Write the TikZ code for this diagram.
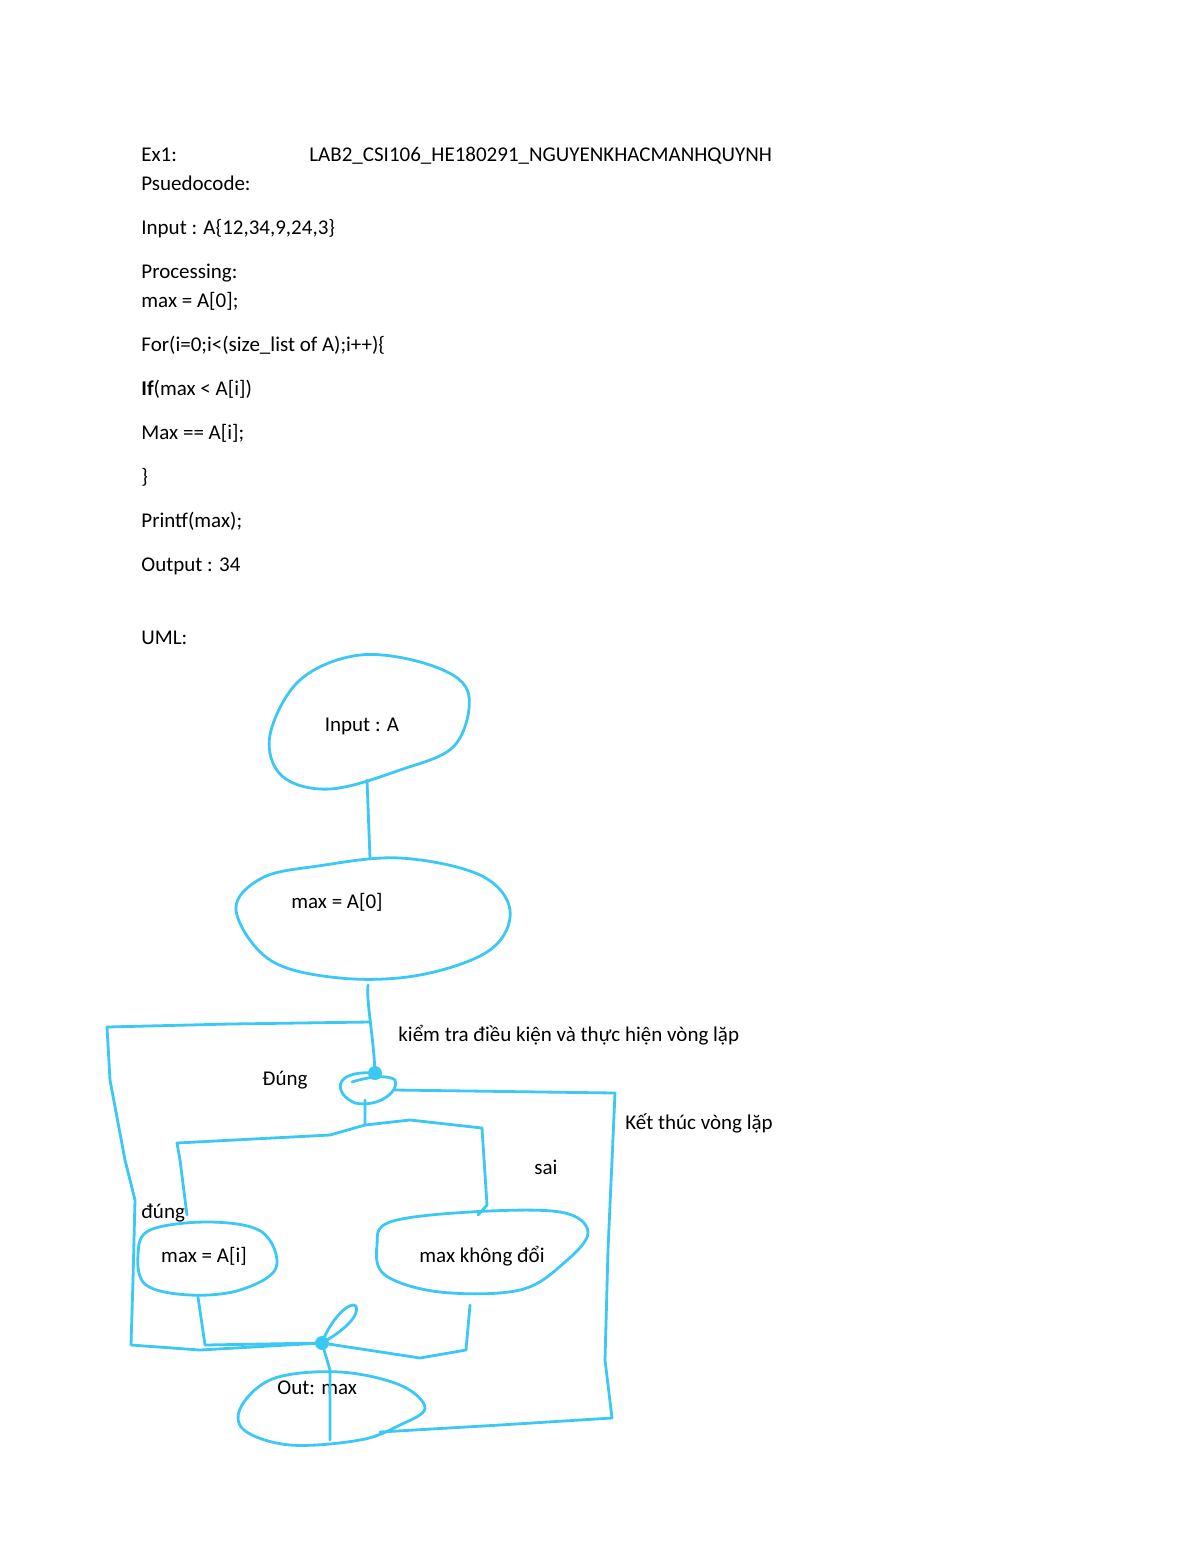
\documentclass[tikz,border=0pt]{standalone}
\usepackage{fontspec}
\setmainfont{Carlito}
\definecolor{pen}{HTML}{3CC8F5}
\begin{document}
\begin{tikzpicture}[x=0.5pt,y=-0.5pt,
  txt/.style={anchor=base west,inner sep=0pt,font=\fontsize{10.5}{13}\selectfont},
  ctxt/.style={inner sep=0pt,font=\fontsize{10.5}{13}\selectfont},
  ink/.style={draw=pen,line width=1.4pt,line cap=round,line join=round}]
\useasboundingbox (0,0) rectangle (1200,1553);
\node[txt] (t1) at (141,161) {Ex1:};
\node[txt] (t1b) at (309,161) {LAB2\_CSI106\_HE180291\_NGUYENKHACMANHQUYNH};
\node[txt] (t2) at (141,190) {Psuedocode:};
\node[txt] (t3) at (141,234) {Input : A\{12,34,9,24,3\}};
\node[txt] (t4) at (141,278) {Processing:};
\node[txt] (t5) at (141,307) {max = A[0];};
\node[txt] (t6) at (141,351) {For(i=0;i<(size\_list of A);i++)\{};
\node[txt] (t7) at (141,395) {\textbf{If}(max < A[i])};
\node[txt] (t8) at (141,439) {Max == A[i];};
\node[txt] (t9) at (141,483) {\}};
\node[txt] (t10) at (141,527) {Printf(max);};
\node[txt] (t11) at (141,571) {Output : 34};
\node[txt] (t12) at (141,644) {UML:};
% shapes
\draw[ink] plot[smooth cycle,tension=0.6] coordinates {(300,680)(360,655)(430,665)(468,692)(455,745)(400,770)(330,789)(282,776)(270,735)};
\draw[ink] plot[smooth cycle,tension=0.6] coordinates {(318,866)(400,858)(480,875)(510,910)(490,950)(420,975)(340,978)(270,960)(236,910)(262,878)};
\draw[ink] plot[smooth cycle,tension=0.6] coordinates {(150,1230)(210,1222)(262,1232)(276,1268)(240,1290)(190,1295)(146,1285)(138,1255)};
\draw[ink] plot[smooth cycle,tension=0.6] coordinates {(390,1222)(470,1212)(560,1212)(588,1232)(565,1262)(520,1290)(440,1292)(385,1275)(377,1245)};
\draw[ink] plot[smooth cycle,tension=0.6] coordinates {(275,1378)(340,1372)(400,1385)(425,1408)(400,1425)(360,1440)(290,1445)(244,1430)(242,1405)};
% label nodes
\node[ctxt] (in) at (362,726) {Input : A};
\node[ctxt] (m0) at (337,902) {max = A[0]};
\node[ctxt] (mi) at (204,1256) {max = A[i]};
\node[ctxt] (mk) at (482,1256) {max không đổi};
\node[txt] (out) at (277,1394) {Out: max};
\node[txt] (l1) at (398,1041) {kiểm tra điều kiện và thực hiện vòng lặp};
\node[txt] (l2) at (262,1085) {Đúng};
\node[txt] (l3) at (625,1129) {Kết thúc vòng lặp};
\node[txt] (l4) at (534,1174) {sai};
\node[txt] (l5) at (141,1218) {đúng};
% junctions
\coordinate (d) at (375,1073);
\coordinate (j) at (322,1343);
\draw[ink] (367,780) -- (370,858);
\draw[ink] (368,985) .. controls (366,1000) and (374,1040) .. (d);
\draw[ink] (d) .. controls (330,1070) and (335,1095) .. (355,1103) .. controls (380,1108) and (400,1090) .. (395,1080) .. controls (390,1075) and (370,1076) .. (352,1082);
\fill[pen] (d) circle (7);
\draw[ink] (370,1022) -- (230,1024) -- (107,1027) -- (110,1080) -- (125,1160) -- (135,1200) -- (133,1280) -- (131,1345) -- (200,1350) -- (j);
\draw[ink] (395,1090) -- (615,1093) -- (608,1250) -- (605,1360) -- (612,1418) -- (500,1425) -- (380,1432);
\draw[ink] (365,1100) -- (365,1125) -- (330,1135) -- (177,1143) -- (180,1160) -- (187,1215);
\draw[ink] (365,1125) -- (410,1120) -- (482,1128) -- (487,1205) -- (478,1215);
\draw[ink] (198,1297) -- (205,1345) -- (j);
\draw[ink] (470,1305) -- (466,1350) -- (420,1358) -- (j);
\draw[ink] (j) .. controls (330,1320) and (350,1300) .. (356,1306) .. controls (360,1315) and (345,1330) .. (j);
\draw[ink] (j) -- (330,1370) -- (330,1440);
\fill[pen] (j) circle (7);
\end{tikzpicture}
\end{document}
